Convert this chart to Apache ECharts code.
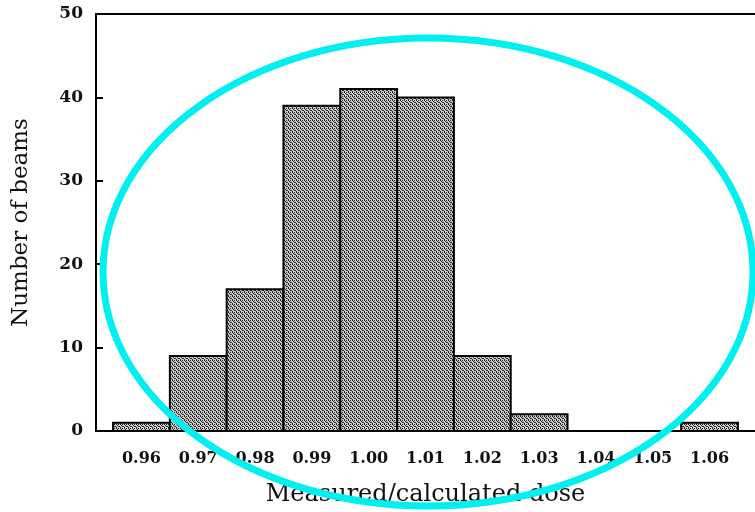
<!DOCTYPE html>
<html>
<head>
<meta charset="utf-8">
<script src="https://cdn.jsdelivr.net/npm/echarts@6/dist/echarts.min.js"></script>
<style>html,body{margin:0;padding:0;background:#fff}#c{width:755px;height:512px}</style>
</head>
<body>
<div id="c"></div>
<script>
const binCenters = [0.96, 0.97, 0.98, 0.99, 1.00, 1.01, 1.02, 1.03, 1.04, 1.05, 1.06];
const beamCounts = [1, 9, 17, 39, 41, 40, 9, 2, 0, 0, 1];
const binWidth = 0.01;
const xTickLabels = [0.96, 0.97, 0.98, 0.99, 1.00, 1.01, 1.02, 1.03, 1.04, 1.05, 1.06];

const serif = '"DejaVu Serif", "Liberation Serif", serif';

// stipple pattern for the bar fill
const pat = document.createElement('canvas');
pat.width = 4; pat.height = 4;
const pc = pat.getContext('2d');
pc.fillStyle = '#cccccc'; pc.fillRect(0, 0, 4, 4);
pc.fillStyle = '#222222';
[[0,0],[2,0],[1,1],[3,2],[0,3],[2,2]].forEach(p => pc.fillRect(p[0], p[1], 1, 1));

const chart = echarts.init(document.getElementById('c'), null, {renderer: 'canvas'});
const data = binCenters.map((x, i) => [x, beamCounts[i]]);

chart.setOption({
  animation: false,
  grid: {left: 96, top: 14, right: 0, bottom: 78},
  xAxis: [{
    type: 'value', min: 0.952, max: 1.068,
    name: 'Measured/calculated dose', nameLocation: 'middle', nameGap: 52,
    nameTextStyle: {fontFamily: serif, fontSize: 24, color: '#111'},
    axisLine: {show: true, lineStyle: {color: '#000', width: 2}},
    axisTick: {show: false},
    splitLine: {show: false},
    axisLabel: {customValues: xTickLabels, formatter: v => v.toFixed(2), margin: 20,
      fontFamily: serif, fontSize: 16, color: '#111', fontWeight: 'bold'}
  }, {
    type: 'value', position: 'top', min: 0.952, max: 1.068,
    axisLine: {show: true, lineStyle: {color: '#000', width: 2}},
    axisTick: {show: false}, axisLabel: {show: false}, splitLine: {show: false}
  }],
  yAxis: {
    type: 'value', min: 0, max: 50, interval: 10,
    name: 'Number of beams', nameLocation: 'middle', nameGap: 63,
    nameTextStyle: {fontFamily: serif, fontSize: 23, color: '#111'},
    axisLine: {show: true, lineStyle: {color: '#000', width: 2}},
    axisTick: {show: true, inside: true, length: 7, lineStyle: {color: '#000', width: 2}},
    splitLine: {show: false},
    axisLabel: {margin: 13, fontFamily: serif, fontSize: 17, color: '#111', fontWeight: 'bold'}
  },
  series: [{
    type: 'custom',
    data: data,
    renderItem: function (params, api) {
      const x = api.value(0), y = api.value(1);
      if (!y) return null;
      const p1 = api.coord([x - binWidth / 2, y]);
      const p2 = api.coord([x + binWidth / 2, 0]);
      return {
        type: 'rect',
        shape: {x: p1[0], y: p1[1], width: p2[0] - p1[0], height: p2[1] - p1[1]},
        style: {fill: {image: pat, repeat: 'repeat'}, stroke: '#000', lineWidth: 2}
      };
    },
    z: 1
  }],
  graphic: [{
    type: 'ellipse',
    shape: {cx: 428, cy: 272, rx: 325, ry: 234},
    style: {fill: 'none', stroke: '#00f0f0', lineWidth: 7},
    z: 100
  }]
});
</script>
</body>
</html>
